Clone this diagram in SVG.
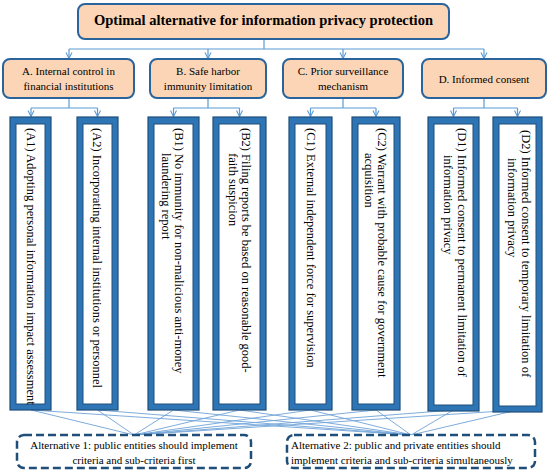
<svg xmlns="http://www.w3.org/2000/svg" width="550" height="473" viewBox="0 0 550 473" font-family="'Liberation Serif', 'DejaVu Serif', 'Times New Roman', serif">
<style>
.peach{fill:#FBD5B5;stroke:#2A649C;stroke-width:2}
.band{fill:#2E75B6;stroke:#1F4E79;stroke-width:1.2}
.inner{fill:#FFFFFF;stroke:#1F4E79;stroke-width:1}
.alt{fill:#FFFFFF;stroke:#1F4E79;stroke-width:2.5;stroke-dasharray:8 4}
.con{fill:none;stroke:#5B9BD5;stroke-width:1.2}
.fan{fill:none;stroke:#6FA3D8;stroke-width:0.9}
text{font-family:'Liberation Serif','DejaVu Serif','Times New Roman',serif;fill:#000}
.t0{font-size:14.5px;font-weight:bold}
.t1{font-size:11px}
.t2{font-size:12.5px}
.t3{font-size:11px}
</style>
<defs>
<marker id="arr" viewBox="0 0 8 8" refX="7" refY="4" markerWidth="8" markerHeight="8" markerUnits="userSpaceOnUse" orient="auto">
<path d="M1,1 L7,4 L1,7" fill="none" stroke="#5B9BD5" stroke-width="1.1"/>
</marker>
</defs>
<g id="connectors">
<path class="con" d="M264,39 V49 M69,49 H484"/>
<path class="con" marker-end="url(#arr)" d="M69,49 V58.5"/>
<path class="con" marker-end="url(#arr)" d="M208,49 V58.5"/>
<path class="con" marker-end="url(#arr)" d="M343,49 V58.5"/>
<path class="con" marker-end="url(#arr)" d="M484,49 V58.5"/>
<path class="con" d="M69,98 V108 M31,108 H97.5 M208,98 V108 M173.5,108 H239.5 M343,98 V108 M310.5,108 H376 M484,98 V108 M453.5,108 H517.5"/>
<path class="con" marker-end="url(#arr)" d="M31,108 V116.5"/>
<path class="con" marker-end="url(#arr)" d="M97.5,108 V116.5"/>
<path class="con" marker-end="url(#arr)" d="M173.5,108 V116.5"/>
<path class="con" marker-end="url(#arr)" d="M239.5,108 V116.5"/>
<path class="con" marker-end="url(#arr)" d="M310.5,108 V116.5"/>
<path class="con" marker-end="url(#arr)" d="M376,108 V116.5"/>
<path class="con" marker-end="url(#arr)" d="M453.5,108 V116.5"/>
<path class="con" marker-end="url(#arr)" d="M517.5,108 V116.5"/>
<path class="fan" d="M31,410 L134,435 M97.5,410 L134,435 M173.5,410 L134,435 M239.5,410 L134,435 M310.5,410 L134,435 M376,410 L134,435 M453.5,410 L134,435 M517.5,410 L134,435"/>
<path class="fan" d="M31,410 L411,435 M97.5,410 L411,435 M173.5,410 L411,435 M239.5,410 L411,435 M310.5,410 L411,435 M376,410 L411,435 M453.5,410 L411,435 M517.5,410 L411,435"/>
</g>
<g id="goal">
<rect class="peach" x="78" y="4" width="371" height="35" rx="7"/>
<text class="t0" x="263.5" y="25" text-anchor="middle">Optimal alternative for information privacy protection</text>
</g>
<g id="A">
<rect class="peach" x="3" y="59" width="131" height="39" rx="7"/>
<text class="t1" x="68.5" y="75" text-anchor="middle">A. Internal control in</text>
<text class="t1" x="68.5" y="90" text-anchor="middle">financial institutions</text>
</g>
<g id="B">
<rect class="peach" x="150" y="59" width="116" height="39" rx="7"/>
<text class="t1" x="208" y="75" text-anchor="middle">B. Safe harbor</text>
<text class="t1" x="208" y="90" text-anchor="middle">immunity limitation</text>
</g>
<g id="C">
<rect class="peach" x="283" y="59" width="120" height="39" rx="7"/>
<text class="t1" x="343" y="75" text-anchor="middle">C. Prior surveillance</text>
<text class="t1" x="343" y="90" text-anchor="middle">mechanism</text>
</g>
<g id="D">
<rect class="peach" x="422" y="59" width="124" height="39" rx="7"/>
<text class="t1" x="484" y="83" text-anchor="middle">D. Informed consent</text>
</g>
<g id="A1">
<rect class="band" x="10" y="117" width="41" height="293"/>
<rect class="inner" x="16" y="124" width="29" height="280"/>
<text class="t2" transform="translate(27,128) rotate(90)">(A1) Adopting personal information impact assessment</text>
</g>
<g id="A2">
<rect class="band" x="77" y="117" width="41" height="293"/>
<rect class="inner" x="83" y="124" width="29" height="280"/>
<text class="t2" transform="translate(93,128) rotate(90)">(A2) Incorporating internal institutions or personnel</text>
</g>
<g id="B1">
<rect class="band" x="148" y="117" width="51" height="293"/>
<rect class="inner" x="154" y="124" width="39" height="280"/>
<text class="t2" transform="translate(175,128) rotate(90)">(B1) No immunity for non-malicious anti-money</text>
<text class="t2" transform="translate(162,153) rotate(90)">laundering report</text>
</g>
<g id="B2">
<rect class="band" x="213" y="117" width="53" height="293"/>
<rect class="inner" x="219" y="124" width="41" height="280"/>
<text class="t2" transform="translate(242,128) rotate(90)">(B2) Filing reports be based on reasonable good-</text>
<text class="t2" transform="translate(229,153) rotate(90)">faith suspicion</text>
</g>
<g id="C1">
<rect class="band" x="289" y="117" width="43" height="293"/>
<rect class="inner" x="295" y="124" width="31" height="280"/>
<text class="t2" transform="translate(306.5,128) rotate(90)">(C1) External independent force for supervision</text>
</g>
<g id="C2">
<rect class="band" x="352" y="117" width="48" height="293"/>
<rect class="inner" x="358" y="124" width="36" height="280"/>
<text class="t2" transform="translate(378,128) rotate(90)">(C2) Warrant with probable cause for government</text>
<text class="t2" transform="translate(365,153) rotate(90)">acquisition</text>
</g>
<g id="D1">
<rect class="band" x="428" y="117" width="51" height="294"/>
<rect class="inner" x="434" y="124" width="39" height="281"/>
<text class="t2" transform="translate(457.5,128) rotate(90)">(D1) Informed consent to permanent limitation of</text>
<text class="t2" transform="translate(443.5,155) rotate(90)">information privacy</text>
</g>
<g id="D2">
<rect class="band" x="493" y="117" width="49" height="295"/>
<rect class="inner" x="499" y="124" width="37" height="282"/>
<text class="t2" transform="translate(522,130) rotate(90)">(D2) Informed consent to temporary limitation of</text>
<text class="t2" transform="translate(508,158) rotate(90)">information privacy</text>
</g>
<g id="alt1">
<rect class="alt" x="17" y="435" width="234" height="33" rx="7"/>
<text class="t3" x="134" y="449" text-anchor="middle">Alternative 1: public entities should implement</text>
<text class="t3" x="134" y="464" text-anchor="middle">criteria and sub-criteria first</text>
</g>
<g id="alt2">
<rect class="alt" x="287" y="435" width="248" height="33" rx="7"/>
<text class="t3" x="291" y="449">Alternative 2: public and private entities should</text>
<text class="t3" x="291" y="464">implement criteria and sub-criteria simultaneously</text>
</g>
</svg>
